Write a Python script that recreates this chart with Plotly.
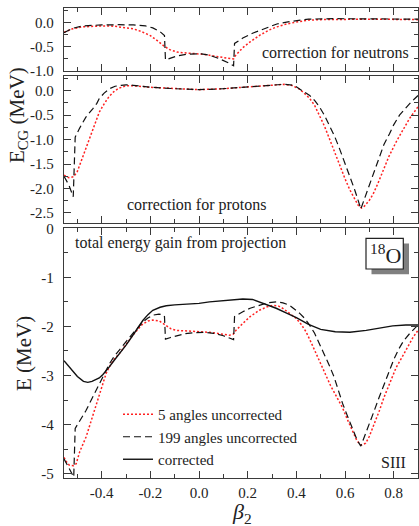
import plotly.graph_objects as go

# ---------------- data ----------------
# Panel 1: correction for neutrons
n5_beta = [-0.555, -0.52, -0.48, -0.44, -0.40, -0.35, -0.30, -0.27, -0.24, -0.20, -0.17, -0.14, -0.12,
           -0.09, -0.05, -0.02, 0.02, 0.06, 0.10, 0.13, 0.142, 0.15, 0.18, 0.21, 0.25, 0.29, 0.32, 0.36,
           0.40, 0.45, 0.50, 0.60, 0.70, 0.80, 0.90]
n5_val = [-0.20, -0.13, -0.09, -0.075, -0.07, -0.075, -0.10, -0.13, -0.18, -0.27, -0.38, -0.50, -0.56,
          -0.61, -0.63, -0.64, -0.655, -0.69, -0.73, -0.745, -0.75, -0.68, -0.52, -0.40, -0.26, -0.15, -0.09, -0.03,
          0.01, 0.05, 0.06, 0.07, 0.07, 0.065, 0.06]
n199_beta = [-0.555, -0.52, -0.48, -0.44, -0.40, -0.33, -0.27, -0.22, -0.19, -0.16, -0.142, -0.138, -0.12,
             -0.09, -0.05, -0.02, 0.01, 0.04, 0.08, 0.12, 0.142, 0.146, 0.18, 0.22, 0.25, 0.29, 0.32, 0.36,
             0.40, 0.45, 0.55, 0.70, 0.90]
n199_val = [-0.21, -0.12, -0.07, -0.055, -0.05, -0.045, -0.05, -0.07, -0.11, -0.19, -0.27, -0.77, -0.74,
            -0.69, -0.655, -0.645, -0.645, -0.67, -0.74, -0.83, -0.89, -0.43, -0.32, -0.22, -0.16, -0.08, -0.03, 0.01,
            0.04, 0.07, 0.08, 0.08, 0.07]

# Panel 2: correction for protons
p5_beta = [-0.555, -0.535, -0.515, -0.50, -0.485, -0.465, -0.45, -0.437, -0.42, -0.41, -0.39, -0.37, -0.35,
           -0.33, -0.30, -0.27, -0.20, -0.10, 0.00, 0.10, 0.20, 0.30, 0.35, 0.38, 0.41, 0.43, 0.455, 0.475,
           0.495, 0.515, 0.535, 0.555, 0.577, 0.60, 0.62, 0.64, 0.655, 0.668, 0.68, 0.70, 0.715, 0.735,
           0.755, 0.78, 0.81, 0.84, 0.865, 0.90]
p5_val = [-1.73, -1.78, -1.76, -1.65, -1.45, -1.18, -0.98, -0.78, -0.57, -0.44, -0.27, -0.12, -0.02,
          0.05, 0.10, 0.10, 0.07, 0.04, 0.02, 0.04, 0.08, 0.12, 0.13, 0.11, 0.04, -0.04, -0.16, -0.30,
          -0.50, -0.72, -0.97, -1.23, -1.52, -1.80, -2.03, -2.23, -2.35, -2.40, -2.36, -2.24, -2.12, -1.90,
          -1.66, -1.35, -1.05, -0.78, -0.57, -0.33]
p199_beta = [-0.555, -0.535, -0.517, -0.509, -0.49, -0.465, -0.437, -0.42, -0.41, -0.39, -0.368, -0.345,
             -0.32, -0.30, -0.27, -0.20, -0.10, 0.00, 0.10, 0.20, 0.30, 0.35, 0.39, 0.425, 0.455, 0.475,
             0.495, 0.515, 0.536, 0.557, 0.577, 0.598, 0.618, 0.64, 0.655, 0.665, 0.675, 0.70, 0.72, 0.741,
             0.76, 0.783, 0.80, 0.824, 0.845, 0.865, 0.885, 0.90]
p199_val = [-1.75, -1.93, -2.17, -0.95, -0.76, -0.54, -0.37, -0.26, -0.16, -0.05, 0.04, 0.09,
            0.11, 0.12, 0.11, 0.07, 0.04, 0.02, 0.04, 0.08, 0.12, 0.13, 0.11, 0.00, -0.10, -0.20,
            -0.33, -0.50, -0.71, -0.93, -1.18, -1.45, -1.73, -2.03, -2.26, -2.42, -2.28, -1.93, -1.62, -1.35,
            -1.10, -0.88, -0.70, -0.50, -0.37, -0.27, -0.17, -0.10]

# Panel 3: total energy gain from projection
t5_beta = [-0.555, -0.545, -0.533, -0.515, -0.505, -0.49, -0.464, -0.437, -0.41, -0.382, -0.368, -0.35,
           -0.327, -0.30, -0.272, -0.25, -0.231, -0.21, -0.19, -0.163, -0.135, -0.115, -0.094, -0.04,
           0.043, 0.10, 0.125, 0.14, 0.152, 0.18, 0.21, 0.248, 0.28, 0.303, 0.325, 0.344, 0.37, 0.40,
           0.42, 0.44, 0.46, 0.48, 0.50, 0.52, 0.54, 0.56, 0.59, 0.61, 0.632, 0.65, 0.668, 0.685, 0.70,
           0.72, 0.741, 0.76, 0.783, 0.81, 0.84, 0.865, 0.88, 0.90]
t5_val = [-4.67, -4.76, -4.83, -4.84, -4.80, -4.55, -4.25, -3.84, -3.40, -2.96, -2.82, -2.68,
          -2.55, -2.36, -2.18, -2.05, -1.95, -1.89, -1.87, -1.89, -1.99, -2.05, -2.08, -2.10,
          -2.12, -2.16, -2.18, -2.16, -2.08, -1.94, -1.80, -1.67, -1.60, -1.57, -1.58, -1.63, -1.72, -1.84,
          -1.96, -2.11, -2.32, -2.55, -2.76, -2.98, -3.20, -3.38, -3.66, -3.90, -4.16, -4.34, -4.42, -4.38, -4.24,
          -4.00, -3.72, -3.45, -3.18, -2.84, -2.58, -2.36, -2.22, -2.08]
t199_beta = [-0.555, -0.54, -0.525, -0.515, -0.509, -0.49, -0.464, -0.443, -0.423, -0.405, -0.389, -0.368,
             -0.35, -0.327, -0.30, -0.272, -0.25, -0.231, -0.21, -0.19, -0.165, -0.15, -0.142, -0.138,
             -0.12, -0.094, -0.06, -0.026, 0.02, 0.06, 0.10, 0.142, 0.146, 0.18, 0.21, 0.248, 0.28, 0.317,
             0.345, 0.372, 0.395, 0.413, 0.435, 0.454, 0.475, 0.495, 0.515, 0.536, 0.555, 0.573, 0.59,
             0.612, 0.632, 0.65, 0.665, 0.68, 0.70, 0.72, 0.74, 0.76, 0.78, 0.80, 0.82, 0.84, 0.865, 0.89, 0.90]
t199_val = [-4.70, -4.85, -4.98, -5.07, -4.08, -3.92, -3.71, -3.50, -3.30, -3.10, -2.94, -2.76,
            -2.62, -2.48, -2.30, -2.14, -2.02, -1.91, -1.83, -1.77, -1.75, -1.76, -1.80, -2.26,
            -2.23, -2.19, -2.15, -2.13, -2.12, -2.14, -2.19, -2.27, -1.80, -1.70, -1.63, -1.57, -1.52, -1.50,
            -1.52, -1.57, -1.65, -1.73, -1.84, -1.97, -2.14, -2.35, -2.58, -2.80, -3.03, -3.30, -3.57,
            -3.85, -4.12, -4.32, -4.44, -4.25, -4.00, -3.72, -3.45, -3.18, -2.92, -2.68, -2.47, -2.30, -2.15, -2.02, -1.97]
tc_beta = [-0.555, -0.53, -0.50, -0.475, -0.457, -0.44, -0.42, -0.41, -0.395, -0.38, -0.368, -0.35,
           -0.327, -0.30, -0.272, -0.25, -0.231, -0.21, -0.19, -0.16, -0.135, -0.10, -0.067, 0.0, 0.043,
           0.10, 0.18, 0.22, 0.248, 0.28, 0.317, 0.36, 0.40, 0.45, 0.50, 0.56, 0.62, 0.687, 0.74, 0.796,
           0.85, 0.90]
tc_val = [-2.70, -2.85, -3.02, -3.12, -3.14, -3.12, -3.08, -3.05, -2.98, -2.90, -2.82, -2.70,
          -2.56, -2.38, -2.18, -2.02, -1.88, -1.76, -1.67, -1.61, -1.58, -1.56, -1.55, -1.53, -1.50,
          -1.47, -1.44, -1.45, -1.50, -1.55, -1.63, -1.73, -1.82, -1.96, -2.06, -2.11, -2.12, -2.08, -2.03, -1.99,
          -1.97, -1.97]

x_tickvals = [-0.4, -0.2, 0.0, 0.2, 0.4, 0.6, 0.8]
x_ticktext = ["-0.4", "-0.2", "0.0", "0.2", "0.4", "0.6", "0.8"]
y1_tickvals = [0.0, -0.5, -1.0]
y1_ticktext = ["0.0", "-0.5", "-1.0"]
y2_tickvals = [0.0, -0.5, -1.0, -1.5, -2.0, -2.5]
y2_ticktext = ["0.0", "-0.5", "-1.0", "-1.5", "-2.0", "-2.5"]
y3_tickvals = [0, -1, -2, -3, -4, -5]
y3_ticktext = ["0", "-1", "-2", "-3", "-4", "-5"]

series_names = ["5 angles uncorrected", "199 angles uncorrected", "corrected"]

# ---------------- figure ----------------
FONT = "'Liberation Serif', 'Times New Roman', Times, serif"
TXT = "#222222"
AX = "#3a3a3a"
RED = "#ff2020"
BLK = "#111111"

red_line = dict(color=RED, width=1.5, dash="2px,2px")
dash_line = dict(color=BLK, width=1.2, dash="7px,4px")
solid_line = dict(color=BLK, width=1.4)

fig = go.Figure()
# panel 1
fig.add_trace(go.Scatter(x=n5_beta, y=n5_val, mode="lines", line=red_line, xaxis="x", yaxis="y", showlegend=False))
fig.add_trace(go.Scatter(x=n199_beta, y=n199_val, mode="lines", line=dash_line, xaxis="x", yaxis="y", showlegend=False))
# panel 2
fig.add_trace(go.Scatter(x=p5_beta, y=p5_val, mode="lines", line=red_line, xaxis="x2", yaxis="y2", showlegend=False))
fig.add_trace(go.Scatter(x=p199_beta, y=p199_val, mode="lines", line=dash_line, xaxis="x2", yaxis="y2", showlegend=False))
# panel 3
fig.add_trace(go.Scatter(x=t5_beta, y=t5_val, mode="lines", line=red_line, xaxis="x3", yaxis="y3", name=series_names[0]))
fig.add_trace(go.Scatter(x=t199_beta, y=t199_val, mode="lines", line=dash_line, xaxis="x3", yaxis="y3", name=series_names[1]))
fig.add_trace(go.Scatter(x=tc_beta, y=tc_val, mode="lines", line=solid_line, xaxis="x3", yaxis="y3", name=series_names[2]))

XR = [-0.555, 0.9]

def xax(anchor, show):
    return dict(anchor=anchor, domain=[0, 1], range=XR, tickvals=x_tickvals, ticktext=x_ticktext,
                showticklabels=show, ticks="inside", ticklen=7, tickwidth=1.2, tickcolor=AX,
                minor=dict(ticks="inside", tick0=0, dtick=0.1, ticklen=4, tickwidth=1.2, tickcolor=AX),
                showline=True, linecolor=AX, linewidth=1.3, mirror="ticks", showgrid=False, zeroline=False,
                tickfont=dict(family=FONT, size=15, color=TXT), ticklabelstandoff=1)

def yax(anchor, dom, rng, tv, tt, mdt):
    return dict(anchor=anchor, domain=dom, range=rng, tickvals=tv, ticktext=tt,
                ticks="inside", ticklen=7, tickwidth=1.2, tickcolor=AX,
                minor=dict(ticks="inside", tick0=0, dtick=mdt, ticklen=4, tickwidth=1.2, tickcolor=AX),
                showline=True, linecolor=AX, linewidth=1.3, mirror="ticks", showgrid=False, zeroline=False,
                tickfont=dict(family=FONT, size=15, color=TXT), ticklabelstandoff=6)

L, R, T, B = 64, 1, 8, 48
W, H = 419, 526
PW, PH = W - L - R, H - T - B

def px_x(px):
    return (px - L) / PW

def px_y(py):
    return (H - B - py) / PH

fig.update_layout(
    width=W, height=H,
    margin=dict(l=L, r=R, t=T, b=B),
    paper_bgcolor="white", plot_bgcolor="white",
    font=dict(family=FONT, size=16, color=TXT),
    xaxis=xax("y", False),
    xaxis2=xax("y2", False),
    xaxis3=xax("y3", True),
    yaxis=yax("x", [px_y(71), 1.0], [-1.0, 0.3], y1_tickvals, y1_ticktext, 0.25),
    yaxis2=yax("x2", [px_y(222.7), px_y(76)], [-2.7, 0.3], y2_tickvals, y2_ticktext, 0.25),
    yaxis3=yax("x3", [0.0, px_y(228.3)], [-5.09, 0.0], y3_tickvals, y3_ticktext, 0.5),
    showlegend=True,
    legend=dict(x=px_x(118), y=px_y(398), xanchor="left", yanchor="top",
                bgcolor="rgba(0,0,0,0)", font=dict(family=FONT, size=15, color=TXT),
                tracegroupgap=0, itemwidth=30),
)

ann = []
ann.append(dict(text="correction for neutrons", xref="paper", yref="paper", x=px_x(411), y=px_y(53),
                xanchor="right", yanchor="middle", showarrow=False, font=dict(size=16)))
ann.append(dict(text="correction for protons", xref="paper", yref="paper", x=px_x(125), y=px_y(205),
                xanchor="left", yanchor="middle", showarrow=False, font=dict(size=16)))
ann.append(dict(text="total energy gain from projection", xref="paper", yref="paper", x=px_x(73), y=px_y(243),
                xanchor="left", yanchor="middle", showarrow=False, font=dict(size=16)))
ann.append(dict(text="SIII", xref="paper", yref="paper", x=px_x(408), y=px_y(462),
                xanchor="right", yanchor="middle", showarrow=False, font=dict(size=16)))
ann.append(dict(text="<sup>18</sup>O", xref="paper", yref="paper", x=px_x(385), y=px_y(254),
                xanchor="center", yanchor="middle", showarrow=False, font=dict(size=22)))
ann.append(dict(text="E<sub>CG</sub> (MeV)", xref="paper", yref="paper", x=px_x(18), y=px_y(115),
                xanchor="center", yanchor="middle", textangle=-90, showarrow=False, font=dict(size=21)))
ann.append(dict(text="E (MeV)", xref="paper", yref="paper", x=px_x(24), y=px_y(354),
                xanchor="center", yanchor="middle", textangle=-90, showarrow=False, font=dict(size=21)))
ann.append(dict(text="<i>β</i><sub>2</sub>", xref="paper", yref="paper", x=px_x(242), y=px_y(513),
                xanchor="center", yanchor="middle", showarrow=False, font=dict(size=22)))
fig.update_layout(annotations=ann)

shapes = [
    dict(type="rect", xref="paper", yref="paper", x0=px_x(371.5), x1=px_x(409), y0=px_y(274.3), y1=px_y(243.6),
         fillcolor="#808080", line=dict(width=0), layer="above"),
    dict(type="rect", xref="paper", yref="paper", x0=px_x(366), x1=px_x(403.3), y0=px_y(269), y1=px_y(238.3),
         fillcolor="white", line=dict(color="#222222", width=1.2), layer="above"),
]
fig.update_layout(shapes=shapes)

fig.write_html("out.html", config={"displayModeBar": False},
               post_script="document.body.style.margin='0';document.body.style.overflow='hidden';")
